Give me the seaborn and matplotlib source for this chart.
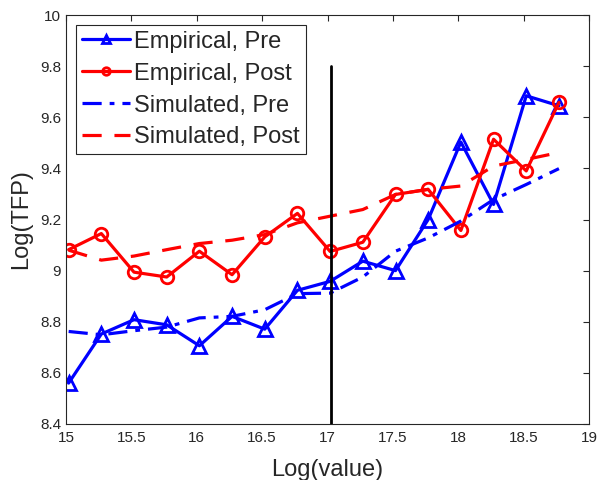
import numpy as np
import pandas as pd
import matplotlib
matplotlib.use("Agg")
import matplotlib.pyplot as plt
import seaborn as sns

# Bin midpoints of log(value)
log_value = [15.02, 15.27, 15.52, 15.77, 16.02, 16.27, 16.52, 16.77,
             17.02, 17.27, 17.52, 17.77, 18.02, 18.27, 18.52, 18.77]

# Mean log TFP per bin
empirical_pre = [8.56, 8.752, 8.808, 8.788, 8.706, 8.821, 8.771, 8.923,
                 8.958, 9.037, 9.000, 9.200, 9.503, 9.259, 9.684, 9.645]
empirical_post = [9.082, 9.145, 8.994, 8.975, 9.076, 8.984, 9.132, 9.224,
                  9.075, 9.111, 9.298, 9.318, 9.157, 9.514, 9.390, 9.658]
simulated_pre = [8.762, 8.749, 8.765, 8.779, 8.815, 8.821, 8.847, 8.910,
                 8.912, 8.975, 9.076, 9.128, 9.194, 9.278, 9.337, 9.399]
simulated_post = [9.080, 9.041, 9.057, 9.082, 9.106, 9.119, 9.141, 9.187,
                  9.213, 9.239, 9.298, 9.318, 9.331, 9.409, 9.435, 9.462]

series_names = ["Empirical, Pre", "Empirical, Post", "Simulated, Pre", "Simulated, Post"]
threshold = 17.03
threshold_top = 9.8

x_ticks = [15, 15.5, 16, 16.5, 17, 17.5, 18, 18.5, 19]
y_ticks = [8.4, 8.6, 8.8, 9, 9.2, 9.4, 9.6, 9.8, 10]
y_tick_labels = ["8.4", "8.6", "8.8", "9", "9.2", "9.4", "9.6", "9.8", "10"]

sns.set_style("white")
plt.rcParams["font.family"] = ["Liberation Sans", "DejaVu Sans"]
ink = "#262626"

df = pd.DataFrame({"x": log_value * 4,
                   "y": empirical_pre + empirical_post + simulated_pre + simulated_post,
                   "series": np.repeat(series_names, len(log_value))})

fig = plt.figure(figsize=(5.97, 4.80), dpi=100)
ax = fig.add_axes([0.1106, 0.1167, 0.876, 0.852])

styles = {
    "Empirical, Pre": dict(color="#0000ff", linestyle="-", marker="^", markersize=10,
                           markerfacecolor="none", markeredgecolor="#0000ff",
                           markeredgewidth=2.0, linewidth=2.3),
    "Empirical, Post": dict(color="#ff0000", linestyle="-", marker="o", markersize=9,
                            markerfacecolor="none", markeredgecolor="#ff0000",
                            markeredgewidth=2.0, linewidth=2.3),
    "Simulated, Pre": dict(color="#0000ff", linestyle=(0, (6, 2.5, 1.5, 2.5)),
                           marker="None", linewidth=2.3),
    "Simulated, Post": dict(color="#ff0000", linestyle=(0, (6, 4)),
                            marker="None", linewidth=2.3),
}
handles = []
for name in series_names:
    sub = df[df["series"] == name]
    sns.lineplot(data=sub, x="x", y="y", ax=ax, color=styles[name]["color"],
                 linewidth=2.3, legend=False)
    line = ax.lines[-1]
    line.set(**styles[name])
    line.set_label(name)
    handles.append(line)

ax.plot([threshold, threshold], [8.4, threshold_top], color="black", linewidth=2.0)

ax.set_xlim(15, 19)
ax.set_ylim(8.4, 10)
ax.set_xticks(x_ticks)
ax.set_xticklabels([f"{t:g}" for t in x_ticks])
ax.set_yticks(y_ticks)
ax.set_yticklabels(y_tick_labels)
ax.tick_params(direction="in", length=4, width=0.8, colors=ink, labelsize=11,
               top=True, right=True, labeltop=False, labelright=False)
ax.tick_params(axis="x", pad=5)
for sp in ax.spines.values():
    sp.set_color(ink)
    sp.set_linewidth(0.8)
    sp.set_visible(True)

ax.set_xlabel("Log(value)", fontsize=17, color=ink, labelpad=10)
ax.set_ylabel("Log(TFP)", fontsize=17, color=ink, labelpad=6)

leg = ax.legend(handles=handles, labels=series_names, loc="upper left",
                bbox_to_anchor=(0.02, 0.976), borderaxespad=0,
                fontsize=17, frameon=True, fancybox=False, handlelength=2.0,
                handletextpad=0.2, labelspacing=0.42, borderpad=0.25, markerscale=0.6)
leg.get_frame().set_edgecolor(ink)
leg.get_frame().set_linewidth(0.8)
leg.get_frame().set_alpha(1)

fig.savefig("out.png", dpi=100)
